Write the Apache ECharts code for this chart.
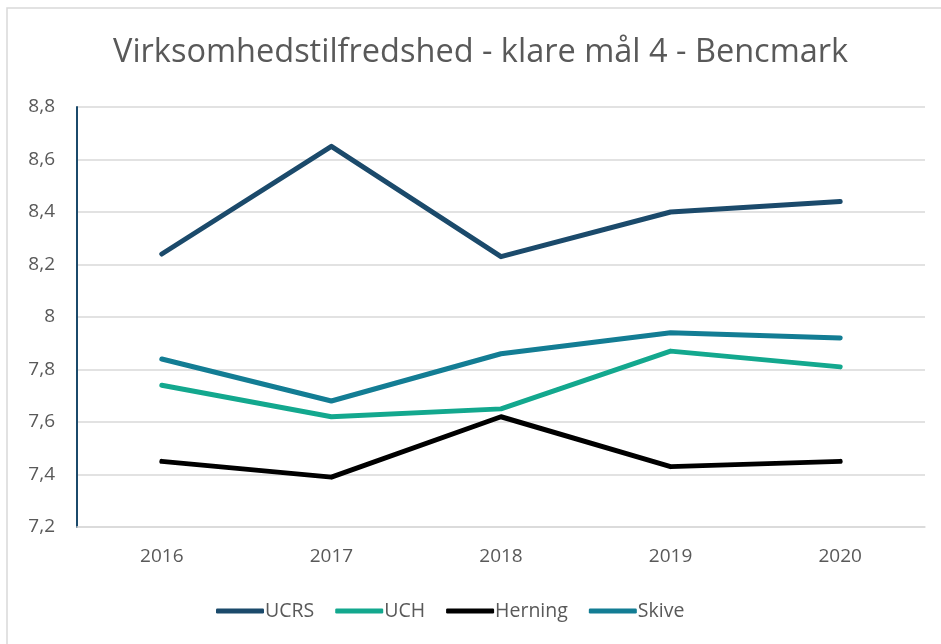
<!DOCTYPE html>
<html>
<head>
<meta charset="utf-8">
<script src="https://cdn.jsdelivr.net/npm/echarts@6/dist/echarts.min.js"></script>
<style>
  html, body { margin: 0; padding: 0; background: #fff; }
  #chart { width: 941px; height: 644px; }
</style>
</head>
<body>
<div id="chart"></div>
<script>
  var years = ['2016', '2017', '2018', '2019', '2020']
  var ucrs = [8.24, 8.65, 8.23, 8.40, 8.44]
  var uch = [7.74, 7.62, 7.65, 7.87, 7.81]
  var herning = [7.45, 7.39, 7.62, 7.43, 7.45]
  var skive = [7.84, 7.68, 7.86, 7.94, 7.92]

  var font = 'Open Sans'

  function mkLine(name, data, color) {
    return {
      name: name,
      type: 'line',
      data: data,
      symbol: 'none',
      lineStyle: { width: 5, color: color, cap: 'round', join: 'round' },
      itemStyle: { color: color }
    }
  }

  var chart = echarts.init(document.getElementById('chart'))
  chart.setOption({
    animation: false,
    backgroundColor: '#fff',
    graphic: [
      {
        type: 'rect',
        shape: { x: 7, y: 8, width: 960, height: 660 },
        style: { fill: 'none', stroke: '#d9d9d9', lineWidth: 1.5 }
      }
    ],
    title: {
      text: 'Virksomhedstilfredshed - klare mål 4 - Bencmark',
      left: 108,
      top: 31,
      textStyle: { fontFamily: font, fontSize: 32.5, fontWeight: 'normal', color: '#595959' }
    },
    legend: {
      bottom: 18,
      left: 211,
      itemWidth: 48,
      itemHeight: 5,
      itemGap: 21,
      icon: 'roundRect',
      textStyle: { fontFamily: font, fontSize: 19.5, color: '#595959', padding: [0, 0, 0, -4] },
      data: ['UCRS', 'UCH', 'Herning', 'Skive']
    },
    grid: { left: 77, right: 16, top: 107, bottom: 117, containLabel: false },
    xAxis: {
      type: 'category',
      data: years,
      boundaryGap: true,
      axisLine: { show: true, lineStyle: { color: '#d9d9d9', width: 1.5 } },
      axisTick: { show: false },
      axisLabel: { fontFamily: font, fontSize: 19, color: '#595959', margin: 20 }
    },
    yAxis: {
      type: 'value',
      min: 7.2,
      max: 8.8,
      interval: 0.2,
      axisLine: { show: true, lineStyle: { color: '#1b4a6b', width: 2 } },
      axisTick: { show: false },
      splitLine: { lineStyle: { color: '#d9d9d9', width: 1.5 } },
      axisLabel: {
        fontFamily: font, fontSize: 19, color: '#595959', margin: 22,
        formatter: function (v) {
          var s = Math.round(v * 10) / 10
          return String(s).replace('.', ',')
        }
      }
    },
    series: [
      mkLine('UCRS', ucrs, '#1b4a6b'),
      mkLine('UCH', uch, '#13a88e'),
      mkLine('Herning', herning, '#000000'),
      mkLine('Skive', skive, '#137d94')
    ]
  })
</script>
</body>
</html>
